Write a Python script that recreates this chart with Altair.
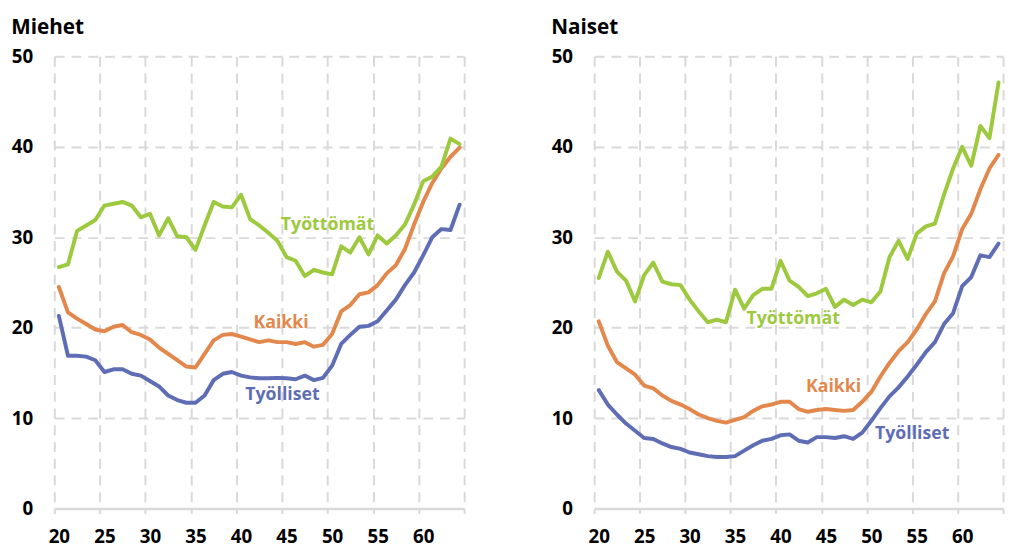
import altair as alt
import pandas as pd

# ---------------- data ----------------
ages = list(range(20, 65))
series_names = ["Työlliset", "Kaikki", "Työttömät"]
series_colors = ["#5f6db5", "#e3884c", "#9dc93f"]

men_tyolliset = [21.3, 16.9, 16.9, 16.8, 16.4, 15.1, 15.4, 15.4, 14.9, 14.7,
                 14.1, 13.5, 12.5, 12.0, 11.7, 11.7, 12.5, 14.2, 14.9, 15.1,
                 14.7, 14.5, 14.4, 14.4, 14.45, 14.4, 14.3, 14.7, 14.2, 14.45,
                 15.8, 18.2, 19.2, 20.1, 20.2, 20.7, 21.9, 23.1, 24.7, 26.1,
                 28.0, 30.0, 30.9, 30.8, 33.6]
men_kaikki = [24.5, 21.7, 21.0, 20.4, 19.8, 19.6, 20.1, 20.3, 19.5, 19.2,
              18.7, 17.8, 17.1, 16.4, 15.7, 15.6, 17.1, 18.6, 19.2, 19.3,
              19.0, 18.7, 18.4, 18.6, 18.4, 18.4, 18.2, 18.4, 17.9, 18.1,
              19.3, 21.8, 22.5, 23.7, 23.9, 24.7, 26.0, 26.9, 28.7, 31.4,
              33.9, 36.0, 37.6, 38.9, 39.9]
men_tyottomat = [26.7, 27.0, 30.7, 31.3, 31.9, 33.5, 33.7, 33.9, 33.5, 32.2,
                 32.6, 30.2, 32.1, 30.1, 30.0, 28.6, 31.3, 33.9, 33.4, 33.3,
                 34.7, 32.0, 31.3, 30.5, 29.6, 27.8, 27.4, 25.7, 26.4, 26.1,
                 25.9, 29.0, 28.3, 30.0, 28.1, 30.2, 29.3, 30.2, 31.4, 33.6,
                 36.2, 36.7, 37.8, 40.9, 40.3]

women_tyolliset = [13.1, 11.5, 10.4, 9.4, 8.6, 7.8, 7.7, 7.2, 6.8, 6.6,
                   6.2, 6.0, 5.8, 5.7, 5.7, 5.8, 6.4, 7.0, 7.5, 7.7,
                   8.1, 8.2, 7.5, 7.3, 7.9, 7.9, 7.8, 8.0, 7.7, 8.4,
                   9.7, 11.1, 12.4, 13.4, 14.6, 15.9, 17.3, 18.4, 20.4, 21.6,
                   24.6, 25.6, 28.0, 27.8, 29.3]
women_kaikki = [20.7, 18.0, 16.2, 15.5, 14.8, 13.6, 13.3, 12.5, 11.9, 11.5,
                11.0, 10.4, 10.0, 9.7, 9.5, 9.8, 10.1, 10.8, 11.3, 11.5,
                11.8, 11.8, 11.0, 10.7, 10.9, 11.0, 10.9, 10.8, 10.9, 11.8,
                12.9, 14.6, 16.1, 17.4, 18.4, 19.8, 21.5, 22.9, 26.0, 27.9,
                30.9, 32.6, 35.3, 37.6, 39.1]
women_tyottomat = [25.5, 28.4, 26.2, 25.2, 22.9, 25.8, 27.2, 25.1, 24.8, 24.7,
                   23.1, 21.8, 20.6, 20.9, 20.6, 24.2, 22.1, 23.6, 24.3, 24.3,
                   27.4, 25.2, 24.5, 23.5, 23.8, 24.3, 22.3, 23.1, 22.5, 23.1,
                   22.8, 24.0, 27.8, 29.6, 27.6, 30.4, 31.2, 31.5, 34.7, 37.6,
                   40.0, 37.9, 42.3, 40.95, 47.1]

# inline series labels (age, value) for Työlliset, Kaikki, Työttömät
men_label_age = [44.55, 44.4, 49.5]
men_label_val = [12.6, 20.55, 31.3]
women_label_age = [54.5, 45.85, 41.4]
women_label_val = [8.2, 13.4, 20.9]

y_ticks = [0, 10, 20, 30, 40, 50]
x_bounds = [19.5 + 5 * i for i in range(10)]

FONT = "Open Sans"
GRID = "#d9d9d9"


def panel(title, tyolliset, kaikki, tyottomat, lab_age, lab_val, width, height):
    df = pd.DataFrame({
        "ika": ages * 3,
        "arvo": tyolliset + kaikki + tyottomat,
        "sarja": [s for s in series_names for _ in ages],
    })
    lab = pd.DataFrame({"ika": lab_age, "arvo": lab_val, "sarja": series_names})

    color = alt.Color("sarja:N", scale=alt.Scale(domain=series_names, range=series_colors),
                      legend=None)
    x = alt.X("ika:Q",
              scale=alt.Scale(domain=[19.5, 64.5], nice=False, zero=False),
              axis=alt.Axis(values=x_bounds, title=None,
                            labelExpr="datum.value < 60 ? format(datum.value + 0.5, 'd') : ''",
                            labelOffset=width / 45 / 2, labelFlush=False, labelOverlap=False,
                            labelFont=FONT, labelFontSize=19, labelFontWeight="bold",
                            labelColor="#000000", labelPadding=14,
                            grid=True, gridDash=[10, 7], gridColor=GRID, gridWidth=2,
                            ticks=True, tickColor=GRID, tickSize=5, tickWidth=2,
                            domain=True, domainColor=GRID, domainWidth=2.5))
    y = alt.Y("arvo:Q",
              scale=alt.Scale(domain=[0, 50], nice=False, zero=True),
              axis=alt.Axis(values=y_ticks, title=None, labelFlush=False,
                            labelFont=FONT, labelFontSize=19, labelFontWeight="bold",
                            labelColor="#000000", labelPadding=22,
                            grid=True, gridDash=[10, 7], gridColor=GRID, gridWidth=2,
                            ticks=False, tickSize=0, domain=False))

    lines = alt.Chart(df).mark_line(strokeWidth=4, strokeJoin="round", strokeCap="round").encode(
        x=x, y=y, color=color, detail="sarja:N")
    texts = alt.Chart(lab).mark_text(font=FONT, fontSize=18, fontWeight="bold",
                                     align="center", baseline="middle").encode(
        x=alt.X("ika:Q"), y=alt.Y("arvo:Q"), text="sarja:N", color=color)

    return alt.layer(lines, texts).properties(
        width=width, height=height,
        title=alt.TitleParams(title, anchor="start", font=FONT, fontSize=21,
                              fontWeight="bold", color="#000000", offset=9.5),
    )


left = panel("Miehet", men_tyolliset, men_kaikki, men_tyottomat,
             men_label_age, men_label_val, 416, 459)
right = panel("Naiset", women_tyolliset, women_kaikki, women_tyottomat,
              women_label_age, women_label_val, 415, 459)

chart = alt.hconcat(left, right, spacing=83).properties(
    padding={"left": 3, "top": 5, "right": 0, "bottom": 0}
).configure_view(stroke=None)

chart.save("out.html", embed_options={"renderer": "svg", "actions": False})
